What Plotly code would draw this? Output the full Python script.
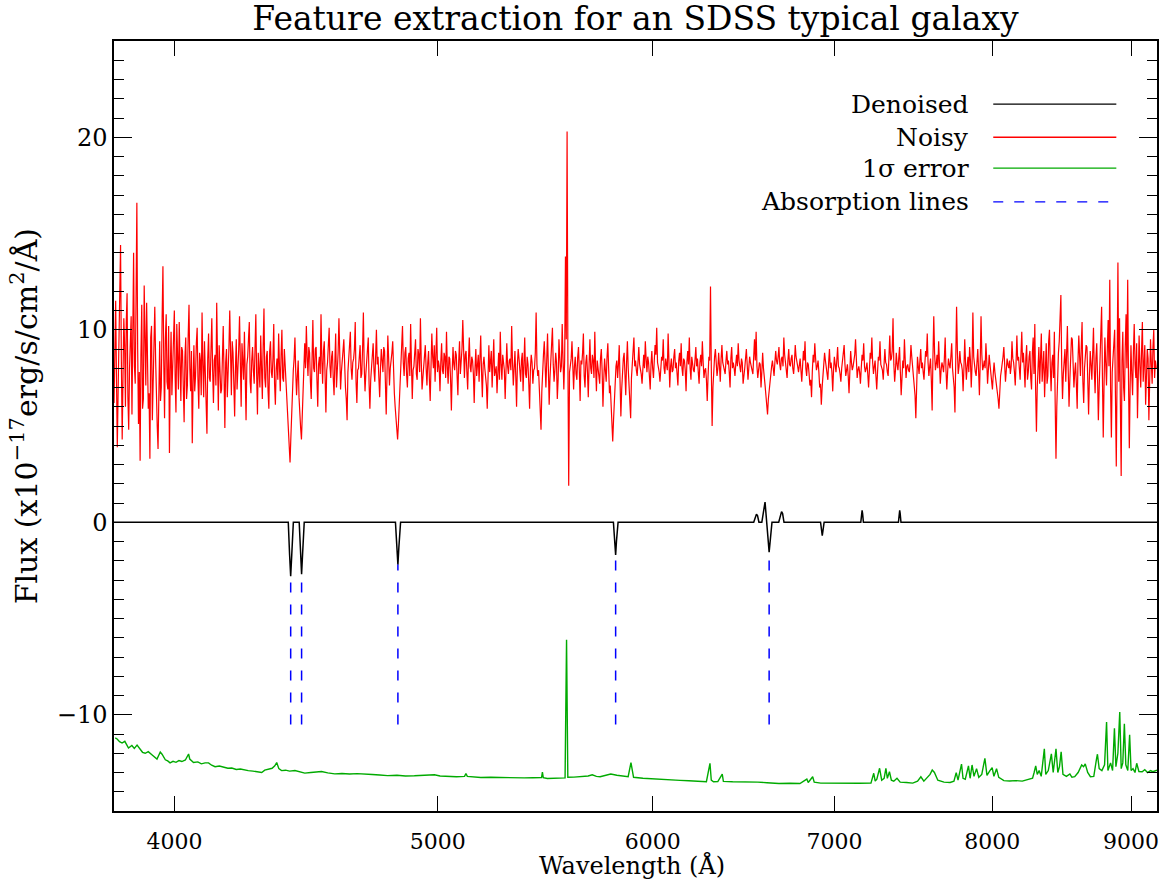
import numpy as np
import plotly.graph_objects as go

# ---------------- data ----------------
# SDSS spectra are sampled on a log-lambda grid: log10(lambda) = LOGLAM0 + DLOGLAM * i
LOGLAM0 = 3.5798
DLOGLAM = 0.0003

NOISY_FLUX = [
    6.2, 8.9, 11.5, 7.4, 3.9, 6.8, 9.8, 12.1, 14.4, 8.3, 4.3, 7.6, 10.6, 9.2, 6.0, 10.4, 11.9, 6.5, 4.8, 8.0,
    9.1, 10.7, 5.6, 9.3, 14.0, 8.1, 7.2, 11.6, 16.6, 9.0, 5.1, 7.8, 3.2, 8.7, 11.3, 5.9, 6.4, 12.3, 9.7, 7.1,
    11.4, 8.2, 5.9, 6.7, 3.3, 9.6, 10.2, 5.3, 7.5, 10.1, 11.2, 8.5, 6.1, 5.0, 3.8, 8.8, 9.4, 6.3, 7.0, 10.6,
    13.3, 8.4, 5.4, 9.5, 10.8, 7.3, 6.9, 10.2, 3.6, 7.9, 9.9, 6.6, 7.8, 9.8, 11.0, 7.5, 5.7, 10.3, 8.6, 6.9,
    10.4, 7.7, 6.3, 9.1, 8.9, 7.0, 5.2, 8.6, 9.6, 6.4, 7.1, 9.7, 11.3, 8.0, 6.8, 8.9, 4.1, 7.2, 9.2, 6.8,
    7.6, 9.3, 10.1, 7.4, 5.9, 8.8, 8.4, 6.6, 10.9, 8.2, 6.5, 9.4, 7.9, 6.1, 4.6, 8.5, 9.8, 7.5, 7.3, 9.0,
    10.6, 7.9, 6.2, 8.4, 8.7, 7.1, 11.4, 8.5, 5.8, 9.2, 8.1, 6.7, 6.9, 8.6, 10.2, 7.6, 4.9, 8.3, 9.0, 6.5,
    7.4, 9.1, 11.0, 7.8, 6.6, 9.4, 8.8, 7.2, 5.5, 8.0, 9.5, 6.9, 7.7, 9.0, 10.7, 8.1, 6.0, 9.3, 8.3, 7.4,
    9.9, 7.6, 5.3, 8.2, 8.6, 9.5, 10.4, 7.3, 6.7, 8.4, 9.1, 7.9, 7.2, 9.0, 10.8, 7.7, 5.6, 8.8, 8.0, 7.0,
    9.7, 8.1, 6.4, 9.2, 11.1, 7.5, 7.0, 8.6, 8.9, 6.8, 5.9, 8.9, 9.4, 7.8, 7.5, 8.5, 10.3, 7.2, 6.1, 8.0,
    8.5, 7.4, 9.8, 8.1, 6.8, 8.7, 10.0, 7.5, 7.3, 9.0, 8.2, 7.0, 6.3, 5.6, 5.0, 3.9, 3.1, 4.4, 5.8, 6.9,
    7.9, 8.5, 9.6, 7.8, 6.6, 7.6, 8.4, 6.5, 5.4, 4.9, 4.3, 5.9, 7.1, 8.4, 9.3, 8.0, 10.2, 8.6, 7.6, 9.1,
    8.8, 7.3, 6.4, 8.5, 10.5, 8.0, 7.8, 9.0, 9.1, 7.4, 6.0, 8.2, 8.6, 7.7, 10.8, 8.4, 7.2, 8.9, 9.4, 7.6,
    5.7, 7.9, 8.3, 9.2, 10.1, 8.1, 7.5, 8.6, 8.9, 7.5, 6.6, 8.3, 9.8, 7.0, 7.9, 8.8, 10.6, 8.2, 6.9, 7.8,
    8.2, 8.9, 9.5, 7.6, 7.0, 6.4, 5.3, 7.8, 8.7, 9.1, 9.9, 8.0, 7.4, 8.3, 8.5, 9.0, 10.4, 7.3, 6.2, 7.9,
    8.0, 8.6, 9.2, 7.5, 7.7, 9.0, 10.9, 8.1, 6.8, 7.7, 8.4, 9.3, 9.6, 7.2, 5.9, 7.4, 8.1, 8.7, 9.3, 7.9,
    7.3, 8.6, 10.0, 8.2, 8.6, 7.5, 6.5, 8.0, 9.0, 8.4, 7.8, 9.1, 8.9, 7.3, 5.6, 7.7, 9.7, 8.5, 7.1, 8.0,
    8.3, 8.8, 9.4, 7.6, 6.7, 6.0, 5.4, 4.9, 4.3, 5.1, 6.2, 7.4, 8.5, 9.2, 10.2, 8.3, 7.6, 8.8, 9.1, 7.7,
    7.0, 8.5, 8.8, 7.6, 10.3, 8.2, 6.4, 7.9, 8.1, 8.8, 9.5, 7.7, 7.4, 9.0, 8.7, 7.8, 10.6, 8.4, 6.9, 7.5,
    8.3, 8.9, 9.2, 8.0, 7.1, 8.3, 8.9, 7.4, 6.3, 8.1, 9.8, 8.6, 8.0, 9.2, 7.3, 8.7, 10.1, 7.8, 8.4, 8.1,
    6.8, 8.3, 9.3, 7.9, 7.7, 8.8, 8.6, 7.5, 9.9, 8.1, 7.2, 8.6, 8.5, 7.4, 5.8, 7.8, 9.1, 8.2, 7.9, 8.9,
    8.7, 7.6, 6.6, 8.4, 9.4, 7.7, 8.2, 9.0, 10.5, 8.0, 7.5, 8.7, 8.9, 7.8, 6.9, 8.5, 9.6, 8.1, 7.8, 8.6,
    8.4, 7.7, 6.2, 8.0, 9.0, 7.6, 8.1, 8.7, 7.3, 8.5, 9.7, 7.8, 6.5, 8.2, 8.6, 8.0, 7.6, 7.1, 5.9, 8.4,
    9.2, 7.8, 8.3, 8.9, 7.0, 8.3, 9.5, 7.6, 7.9, 8.1, 6.7, 8.5, 8.8, 7.4, 9.9, 8.2, 7.4, 8.7, 8.1, 7.9,
    6.4, 8.6, 9.3, 8.1, 7.7, 8.4, 8.5, 7.9, 10.2, 8.3, 7.1, 8.0, 8.9, 7.6, 6.0, 8.2, 9.0, 8.5, 7.8, 7.3,
    8.4, 8.8, 6.8, 8.1, 9.6, 7.7, 7.5, 8.6, 8.2, 7.2, 5.9, 8.0, 8.7, 8.3, 7.2, 7.9, 8.0, 8.8, 10.9, 8.2,
    7.6, 7.9, 6.6, 6.0, 4.8, 6.8, 8.3, 8.7, 9.4, 7.7, 7.0, 8.4, 9.8, 8.0, 6.1, 7.5, 8.5, 8.9, 10.1, 8.2,
    7.3, 7.9, 8.8, 8.3, 6.4, 7.4, 9.5, 8.6, 7.8, 8.1, 10.3, 8.5, 6.9, 8.4, 13.8, 9.5, 20.3, 8.3, 1.9, 7.8,
    8.2, 8.5, 9.4, 7.8, 6.9, 8.1, 8.6, 7.7, 7.4, 8.6, 9.1, 7.9, 6.3, 8.4, 8.2, 8.8, 9.8, 7.6, 7.0, 8.3,
    8.7, 7.8, 6.5, 8.2, 9.5, 8.0, 7.7, 8.7, 8.4, 7.5, 9.9, 8.1, 6.8, 8.4, 8.0, 7.6, 7.2, 8.5, 9.0, 7.9,
    6.0, 7.4, 8.5, 7.9, 7.3, 8.6, 9.3, 8.0, 6.7, 7.1, 5.8, 5.0, 4.2, 5.3, 6.4, 7.6, 8.1, 8.4, 7.5, 8.2,
    9.2, 7.3, 5.5, 6.9, 7.9, 8.5, 8.8, 7.8, 6.6, 8.3, 9.4, 8.0, 7.2, 6.7, 5.4, 7.5, 8.3, 8.7, 9.6, 8.1,
    8.4, 7.9, 7.6, 8.3, 9.1, 8.2, 8.0, 7.7, 7.2, 8.1, 8.7, 8.0, 9.4, 8.5, 7.8, 8.6, 8.3, 7.6, 6.9, 8.2,
    8.9, 8.0, 7.5, 8.4, 9.2, 8.7, 10.1, 8.3, 8.1, 7.8, 7.3, 8.1, 8.6, 8.4, 9.5, 8.0, 7.7, 8.5, 8.2, 7.9,
    9.8, 8.2, 7.0, 8.1, 8.5, 7.8, 7.9, 8.6, 9.0, 8.0, 8.3, 7.7, 7.1, 8.4, 8.8, 8.1, 9.3, 8.0, 7.6, 8.5,
    8.4, 7.9, 6.8, 8.3, 8.9, 8.2, 9.6, 8.0, 7.4, 8.6, 8.1, 7.9, 7.8, 8.4, 9.1, 8.1, 8.5, 7.8, 7.2, 8.3,
    8.7, 8.1, 9.4, 8.3, 7.5, 7.9, 8.0, 7.4, 6.3, 7.6, 8.6, 8.4, 12.25, 8.0, 5.0, 7.0, 8.2, 8.6, 9.0, 8.2,
    7.6, 8.0, 8.8, 8.1, 7.3, 8.5, 9.2, 8.3, 8.1, 7.9, 7.7, 8.4, 8.9, 8.2, 8.4, 7.8, 7.0, 8.5, 9.1, 8.0,
    8.3, 8.0, 7.6, 8.2, 8.7, 8.1, 9.3, 8.4, 7.9, 7.8, 8.5, 8.3, 7.2, 7.9, 8.0, 8.5, 9.0, 8.2, 7.4, 8.0,
    8.6, 8.3, 8.1, 7.9, 7.7, 8.6, 9.5, 8.4, 9.9, 8.1, 7.5, 7.9, 8.3, 8.2, 7.0, 7.8, 8.8, 8.0, 7.3, 7.1,
    6.6, 6.1, 5.6, 6.4, 6.9, 7.4, 7.8, 8.1, 8.4, 8.0, 7.6, 8.3, 8.9, 8.4, 8.2, 8.6, 9.1, 8.2, 7.9, 8.5,
    8.6, 8.1, 9.6, 8.7, 8.3, 8.0, 7.5, 8.4, 9.0, 8.2, 8.1, 8.5, 8.7, 8.0, 7.7, 8.3, 9.2, 8.6, 8.4, 8.1,
    7.8, 8.2, 8.5, 7.9, 7.3, 8.1, 8.9, 8.4, 9.4, 8.0, 7.6, 8.3, 8.2, 7.7, 7.1, 7.4, 6.5, 7.9, 8.7, 8.3,
    9.3, 8.5, 7.9, 8.1, 8.4, 7.8, 7.0, 7.2, 6.1, 7.0, 7.7, 8.2, 8.8, 8.4, 8.1, 7.9, 7.4, 8.3, 9.0, 8.0,
    8.3, 7.8, 6.8, 7.9, 8.6, 8.2, 7.8, 8.4, 9.1, 8.1, 8.0, 7.7, 7.3, 8.0, 8.5, 8.6, 9.2, 8.2, 7.6, 7.9,
    8.2, 7.6, 6.7, 7.8, 8.9, 8.3, 7.9, 8.1, 8.4, 8.7, 9.5, 8.2, 7.5, 7.9, 8.1, 7.8, 7.2, 8.0, 8.7, 8.4,
    9.3, 8.1, 7.8, 8.0, 8.3, 7.7, 7.0, 7.9, 8.8, 8.5, 9.6, 8.3, 7.7, 8.1, 8.4, 7.6, 6.9, 7.8, 8.6, 8.4,
    9.4, 8.2, 8.0, 7.9, 7.4, 8.0, 9.0, 8.3, 8.2, 7.8, 7.6, 8.6, 9.7, 8.4, 8.5, 8.9, 10.6, 8.2, 7.3, 7.9,
    8.8, 8.2, 7.9, 8.5, 9.1, 7.8, 6.6, 7.5, 8.4, 8.0, 9.5, 8.4, 7.5, 8.1, 8.2, 7.9, 7.8, 8.3, 9.2, 8.6,
    8.0, 7.7, 7.1, 6.6, 5.4, 7.2, 8.6, 8.1, 7.7, 8.4, 9.0, 8.0, 8.3, 7.8, 7.4, 8.2, 8.9, 8.6, 9.8, 8.3,
    7.6, 8.1, 8.5, 7.4, 5.8, 8.6, 10.7, 8.8, 7.9, 8.2, 8.7, 8.0, 9.4, 8.3, 7.2, 7.9, 8.3, 8.1, 7.8, 8.5,
    9.6, 7.9, 6.9, 7.8, 8.5, 8.2, 8.0, 8.6, 9.3, 8.0, 7.5, 7.0, 5.7, 8.4, 11.2, 8.9, 7.7, 8.1, 8.9, 8.3,
    8.2, 7.9, 6.8, 8.0, 9.5, 8.3, 7.4, 8.1, 8.6, 7.8, 9.1, 8.4, 7.0, 8.2, 10.9, 8.6, 8.1, 7.8, 7.6, 8.2,
    9.0, 7.9, 6.6, 8.3, 10.7, 8.7, 7.9, 8.1, 8.4, 8.0, 9.3, 8.4, 7.2, 7.9, 8.7, 8.2, 7.8, 7.5, 6.9, 7.7,
    8.3, 7.8, 7.5, 7.2, 6.7, 6.4, 5.9, 7.1, 7.6, 7.9, 8.2, 8.6, 9.1, 8.0, 7.3, 7.9, 8.5, 8.2, 8.0, 8.4,
    7.7, 8.1, 9.4, 8.5, 8.3, 7.8, 7.1, 8.3, 9.7, 8.4, 8.6, 8.0, 7.4, 8.7, 9.9, 8.3, 8.8, 8.0, 7.0, 8.5,
    9.2, 7.4, 7.8, 8.6, 8.9, 7.5, 6.9, 8.8, 9.6, 7.7, 10.3, 6.9, 4.7, 7.0, 8.4, 9.1, 7.2, 8.5, 9.8, 7.3,
    8.1, 8.9, 6.5, 8.0, 9.3, 7.2, 7.6, 9.4, 10.0, 8.1, 6.8, 8.3, 8.7, 7.5, 9.9, 6.2, 3.3, 6.0, 7.9, 8.8,
    9.4, 10.5, 11.8, 8.2, 6.4, 7.7, 8.6, 9.0, 7.3, 8.5, 10.2, 7.9, 6.0, 7.4, 8.8, 9.6, 9.5, 8.1, 7.0, 7.8,
    8.3, 7.2, 5.9, 8.4, 9.7, 8.6, 7.6, 9.1, 10.4, 7.3, 6.2, 8.0, 8.5, 9.2, 9.1, 7.1, 5.6, 7.5, 8.9, 8.2,
    7.4, 8.7, 10.1, 7.9, 6.7, 8.5, 9.3, 7.6, 5.3, 7.0, 8.2, 9.4, 11.2, 7.5, 4.4, 7.2, 9.6, 8.3, 7.1, 9.0,
    10.5, 8.1, 12.6, 6.9, 4.4, 7.8, 8.8, 9.5, 10.0, 6.4, 2.9, 8.0, 13.5, 7.3, 10.6, 6.1, 2.4, 8.4, 9.9, 7.0,
    6.3, 9.1, 10.8, 8.0, 12.6, 7.4, 3.85, 7.1, 9.2, 7.7, 6.6, 8.8, 10.3, 8.2, 7.5, 9.3, 5.4, 7.6, 9.7, 8.1,
    7.0, 8.9, 10.4, 7.3, 8.1, 9.2, 6.1, 7.8, 9.0, 8.5, 5.3, 7.4, 9.5, 8.3, 7.2, 9.1, 10.0, 7.5, 8.4, 8.0,
]

DEN_WAVE = [3800, 4405, 4410, 4414, 4418, 4424, 4446, 4451, 4455, 4459, 4465,
            4824, 4830, 4834, 4838, 4845, 5803, 5810, 5814, 5818, 5826,
            6536, 6545, 6551, 6557, 6565, 6581, 6599, 6622, 6638,
            6676, 6686, 6692, 6698, 6706, 6917, 6923, 6927, 6931, 6938,
            7157, 7162, 7165, 7168, 7173, 7389, 7394, 7397, 7400, 7405, 9200]
DEN_FLUX = [0, 0, -1.7, -2.8, -1.7, 0, 0, -1.6, -2.7, -1.6, 0,
            0, -1.3, -2.2, -1.3, 0, 0, -1.0, -1.7, -1.0, 0,
            0, 0.35, 0.42, 0.35, 0, 0, 1.05, -1.55, 0,
            0, 0.45, 0.55, 0.45, 0, 0, -0.45, -0.7, -0.45, 0,
            0, 0.45, 0.62, 0.45, 0, 0, 0.45, 0.62, 0.45, 0, 0]

ABS_WAVE = [4414, 4455, 4834, 5814, 6622]
ABS_TOP = [-2.8, -2.7, -2.2, -1.7, -1.55]
ABS_BOTTOM = -10.5

ERR_WAVE = [3804, 3810, 3818, 3826, 3835, 3847, 3858, 3866, 3875, 3884, 3893, 3902, 3912, 3924, 3933,
            3941, 3947, 3952, 3958, 3969, 3977, 3985, 3995, 4005, 4015, 4025, 4037, 4048, 4052, 4065,
            4080, 4092, 4105, 4117, 4128, 4140, 4155, 4170, 4185, 4199, 4215, 4230, 4245, 4258, 4275,
            4290, 4307, 4318, 4331, 4345, 4355, 4362, 4370, 4380, 4395, 4410, 4430, 4448, 4467, 4490,
            4510, 4531, 4555, 4582, 4610, 4640, 4670, 4699, 4730, 4760, 4792, 4830, 4865, 4902, 4940,
            4970, 4986, 5010, 5042, 5080, 5115, 5121, 5127, 5160, 5186, 5230, 5280, 5334, 5380, 5420,
            5460, 5464, 5468, 5487, 5520, 5550, 5570, 5577, 5583, 5612, 5650, 5680, 5700, 5720, 5738,
            5760, 5790, 5820, 5841, 5876, 5890, 5896, 5903, 5950, 6004, 6050, 6095, 6140, 6186, 6230,
            6279, 6298, 6305, 6317, 6340, 6364, 6370, 6420, 6481, 6520, 6559, 6610, 6677, 6740, 6797,
            6837, 6845, 6871, 6880, 6918, 6990, 7082, 7150, 7219, 7236, 7245, 7255, 7272, 7285, 7300,
            7311, 7320, 7333, 7345, 7360, 7380, 7400, 7440, 7479, 7510, 7531, 7550, 7590, 7604, 7618,
            7640, 7680, 7720, 7745, 7760, 7772, 7795, 7805, 7820, 7841, 7852, 7865, 7878, 7895, 7910,
            7930, 7951, 7965, 7985, 8000, 8012, 8030, 8045, 8080, 8120, 8160, 8207, 8240, 8279, 8290,
            8301, 8312, 8325, 8340, 8362, 8372, 8390, 8412, 8425, 8445, 8458, 8470, 8482, 8495, 8520,
            8545, 8560, 8580, 8605, 8631, 8645, 8657, 8675, 8695, 8720, 8740, 8747, 8760, 8780, 8800,
            8815, 8825, 8845, 8860, 8874, 8885, 8900, 8914, 8925, 8937, 8949, 8960, 8975, 8989, 9000,
            9015, 9030, 9043, 9060, 9085, 9105, 9126, 9150, 9167, 9200]
ERR_FLUX = [-11.2, -11.26, -11.4, -11.47, -11.38, -11.73, -11.6, -11.75, -11.58, -11.8, -11.95, -12.0, -11.92, -12.08, -12.2,
            -12.3, -12.1, -11.94, -12.05, -12.34, -12.4, -12.5, -12.42, -12.47, -12.38, -12.43, -12.35, -12.04, -12.3, -12.48,
            -12.45, -12.55, -12.5, -12.5, -12.62, -12.7, -12.66, -12.72, -12.78, -12.77, -12.84, -12.82, -12.88, -12.9, -12.93,
            -12.97, -13.0, -12.88, -12.83, -12.78, -12.65, -12.48, -12.8, -12.9, -12.88, -12.93, -12.9, -12.98, -13.03, -13.0,
            -12.97, -12.95, -13.02, -13.07, -13.05, -13.08, -13.06, -13.07, -13.1, -13.13, -13.16, -13.14, -13.18, -13.17, -13.15,
            -13.12, -13.12, -13.18, -13.2, -13.22, -13.2, -13.05, -13.2, -13.24, -13.26, -13.25, -13.27, -13.26, -13.28, -13.27,
            -13.26, -12.98, -13.27, -13.31, -13.3, -13.29, -13.28, -6.1, -13.25, -13.24, -13.22, -13.18, -13.12, -13.2, -13.22,
            -13.16, -13.08, -13.14, -13.17, -13.22, -12.49, -12.9, -13.25, -13.3, -13.34, -13.36, -13.39, -13.41, -13.43, -13.45,
            -13.48, -12.52, -13.4, -13.48, -13.47, -13.08, -13.46, -13.48, -13.48, -13.49, -13.5, -13.53, -13.57, -13.56, -13.57,
            -13.34, -13.52, -13.22, -13.5, -13.55, -13.56, -13.57, -13.56, -13.55, -13.04, -13.45, -13.35, -12.78, -13.4, -13.3,
            -12.78, -13.3, -12.96, -13.4, -13.45, -13.3, -13.5, -13.52, -13.55, -13.45, -13.22, -13.45, -13.1, -12.87, -13.0,
            -13.4, -13.5, -13.52, -13.45, -13.01, -13.4, -12.56, -13.3, -13.35, -12.66, -13.3, -12.61, -13.2, -12.8, -13.25,
            -13.1, -12.26, -13.15, -12.9, -12.75, -13.2, -12.8, -13.25, -13.42, -13.44, -13.42, -13.45, -13.38, -13.3, -13.0,
            -12.66, -13.1, -12.9, -13.2, -11.77, -13.1, -12.9, -12.03, -13.0, -11.77, -13.0, -12.7, -11.93, -13.1, -13.2,
            -13.08, -13.25, -13.22, -13.0, -12.61, -12.7, -12.55, -13.0, -13.22, -13.2, -12.3, -12.05, -12.8, -12.9, -12.6,
            -10.38, -12.9, -12.5, -12.9, -10.7, -12.7, -12.0, -9.86, -12.8, -12.5, -10.47, -12.6, -12.9, -11.04, -12.9,
            -12.8, -13.0, -12.52, -12.95, -12.96, -12.85, -13.0, -12.9, -12.96, -12.88]

X_RANGE = [3800, 9200]
Y_RANGE = [-15, 25]
X_TICKS = [4000, 5000, 6000, 7000, 8000, 9000]
Y_TICKS = [-10, 0, 10, 20]

TITLE = "Feature extraction for an SDSS typical galaxy"
X_TITLE = "Wavelength (Å)"
Y_TITLE = "Flux (x10<sup>−17</sup>erg/s/cm<sup>2</sup>/Å)"
LEGEND_LABELS = ["Denoised", "Noisy", "1σ error", "Absorption lines"]

# ---------------- styles ----------------
FONT = "DejaVu Serif"
RED = "#ff0000"
GREEN = "#00aa00"
BLUE = "#0000ff"
BLACK = "#000000"

noisy_wave = 10 ** (LOGLAM0 + DLOGLAM * np.arange(len(NOISY_FLUX)))

fig = go.Figure()
fig.add_trace(go.Scatter(x=noisy_wave, y=NOISY_FLUX, mode="lines",
                         line=dict(color=RED, width=1.2), hoverinfo="skip"))
fig.add_trace(go.Scatter(x=DEN_WAVE, y=DEN_FLUX, mode="lines",
                         line=dict(color=BLACK, width=1.5), hoverinfo="skip"))
for w, top in zip(ABS_WAVE, ABS_TOP):
    fig.add_trace(go.Scatter(x=[w, w], y=[ABS_BOTTOM, top], mode="lines",
                             line=dict(color=BLUE, width=1.5, dash="10px,12px"),
                             hoverinfo="skip"))
fig.add_trace(go.Scatter(x=ERR_WAVE, y=ERR_FLUX, mode="lines",
                         line=dict(color=GREEN, width=1.4), hoverinfo="skip"))

# legend drawn as in the reference: right-aligned labels followed by sample lines
leg_colors = [BLACK, RED, GREEN, BLUE]
leg_dash = ["solid", "solid", "solid", "10px,11px"]
leg_y = [0.918, 0.875, 0.835, 0.791]
for lab, col, dsh, yy in zip(LEGEND_LABELS, leg_colors, leg_dash, leg_y):
    fig.add_annotation(xref="paper", yref="paper", x=0.822, y=yy, text=lab,
                       showarrow=False, xanchor="right", yanchor="middle",
                       font=dict(family=FONT, size=25, color=BLACK))
    fig.add_shape(type="line", xref="paper", yref="paper", x0=0.843, x1=0.961,
                  y0=yy, y1=yy, line=dict(color=col, width=1.3, dash=dsh))

fig.add_annotation(xref="paper", yref="paper", x=0.497, y=-0.071, text=X_TITLE,
                   showarrow=False, xanchor="center", yanchor="middle",
                   font=dict(family=FONT, size=24, color=BLACK))
fig.add_annotation(xref="paper", yref="paper", x=-0.085, y=0.513, text=Y_TITLE,
                   showarrow=False, xanchor="center", yanchor="middle", textangle=-90,
                   font=dict(family=FONT, size=30, color=BLACK))

axis_common = dict(showline=True, linecolor=BLACK, linewidth=1.5, mirror="ticks",
                   ticks="inside", tickcolor=BLACK, showgrid=False, zeroline=False)

fig.update_layout(
    width=1171, height=884,
    margin=dict(l=114, r=14, t=41, b=73),
    paper_bgcolor="white", plot_bgcolor="white",
    showlegend=False,
    title=dict(text=TITLE, x=0.5, xanchor="center", xref="paper",
               y=0.979, yanchor="middle", yref="container",
               font=dict(family=FONT, size=33, color=BLACK)),
    xaxis=dict(type="log", range=[np.log10(X_RANGE[0]), np.log10(X_RANGE[1])],
               tickvals=X_TICKS, ticktext=[str(v) for v in X_TICKS],
               tickfont=dict(family=FONT, size=22, color=BLACK),
               ticklen=15, tickwidth=1.2, ticklabelstandoff=10, **axis_common),
    yaxis=dict(range=Y_RANGE, tickvals=Y_TICKS, ticklen=18, tickwidth=1.2,
               tickfont=dict(family=FONT, size=24, color=BLACK),
               minor=dict(dtick=1, tick0=0, ticklen=10, ticks="inside",
                          tickcolor=BLACK, tickwidth=1.2),
               **axis_common),
)

fig.write_html("out.html")
